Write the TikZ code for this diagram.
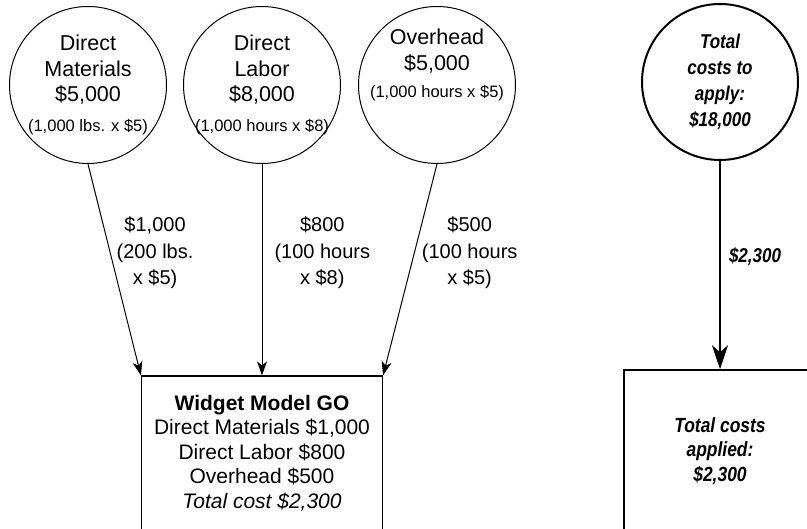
\documentclass[tikz,border=0pt]{standalone}
\usepackage{fontspec}
\setmainfont{Liberation Sans}
\newfontfamily\heavy{Liberation Sans}[FakeStretch=0.85]
\usetikzlibrary{shapes, arrows.meta, positioning}
\tikzstyle{cost} = [
    circle,
    draw=black,
    line width=1pt,
    minimum size=157pt,
    inner sep=-10pt,
    align=center,
    font=\fontsize{21.5}{25.5}\selectfont
]
\tikzstyle{total} = [
    circle,
    draw=black,
    line width=2pt,
    minimum size=156pt,
    inner sep=-10pt,
    align=center,
    font=\fontsize{20}{26}\selectfont\heavy\bfseries\itshape
]
\tikzstyle{job} = [
    rectangle,
    draw=black,
    line width=1.2pt,
    minimum width=241pt,
    minimum height=154pt,
    align=center,
    font=\fontsize{21}{24.5}\selectfont
]
\tikzstyle{applied} = [
    rectangle,
    draw=black,
    line width=1.5pt,
    minimum width=192pt,
    minimum height=162pt,
    align=center,
    font=\fontsize{20.5}{24.5}\selectfont\heavy\bfseries\itshape
]
\tikzstyle{flow} = [-{Stealth[length=14pt, width=10pt, inset=4pt]}, line width=1pt]
\tikzstyle{bigflow} = [-{Stealth[length=24pt, width=16pt, inset=7pt]}, line width=2pt]
\tikzstyle{amount} = [
    align=center,
    inner sep=0pt,
    font=\fontsize{20}{26.5}\selectfont
]
\newcommand{\smalltext}[1]{{\fontsize{16.5}{18}\selectfont #1}}

\begin{document}
\begin{tikzpicture}[x=1pt, y=-1pt, node distance=2cm]
            \useasboundingbox (0,0) rectangle (807,529);
            \clip (0,0) rectangle (807,529);
            \node[cost] (materials) at (88,85) {Direct\\Materials\\\$5,000\\[4pt]\smalltext{(1,000 lbs. x \$5)}};
            \node[cost] (labor) [right=16pt of materials] {Direct\\Labor\\\$8,000\\[4pt]\smalltext{(1,000 hours x \$8)}};
            \node[cost] (overhead) [right=17pt of labor] {Overhead\\\$5,000\\[2pt]\smalltext{(1,000 hours x \$5)}\\[18pt]};
            \node[total] (total) at (720,82) {Total\\costs to\\apply:\\\$18,000};
            \node[job] (widget) [below of=labor, node distance=368pt] {\textbf{Widget Model GO}\\Direct Materials \$1,000\\Direct Labor \$800\\Overhead \$500\\\textit{Total cost \$2,300}};
            \node[applied] (applied) [below of=total, node distance=369pt] {Total costs\\applied:\\\$2,300};
            
            \draw[flow] (materials.south) -- (widget.north west) node[amount, pos=0.42, right=6pt] {\$1,000\\(200 lbs.\\x \$5)};
            \draw[flow] (labor) -- (widget) node[amount, pos=0.42, right=12pt] {\$800\\(100 hours\\x \$8)};
            \draw[flow] (overhead.south) -- (widget.north east) node[amount, pos=0.42, right=7pt] {\$500\\(100 hours\\x \$5)};
            \draw[bigflow] (total) -- (applied) node[amount, pos=0.46, right=8pt, font=\fontsize{20}{24}\selectfont\heavy\bfseries\itshape] {\$2,300};
        \end{tikzpicture}
\end{document}
